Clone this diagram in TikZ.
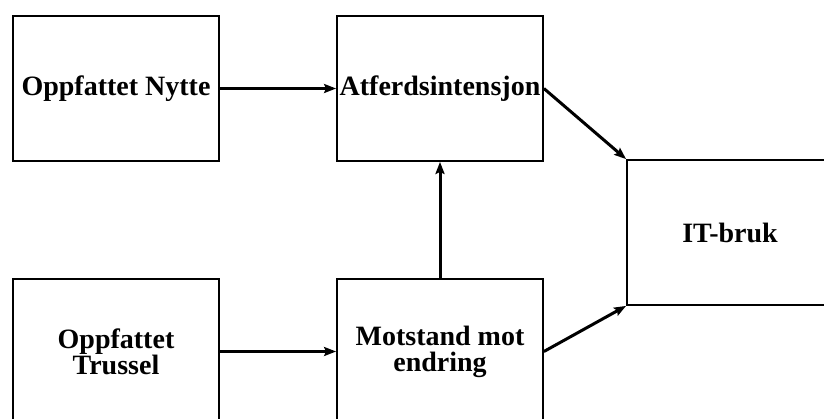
\documentclass[tikz,border=0pt]{standalone}
\usepackage{fontspec}
\setmainfont{Liberation Serif}
\usetikzlibrary{arrows.meta}
\begin{document}
\begin{tikzpicture}[x=1pt,y=-1pt,
  box/.style={draw=black,line width=1.8pt,fill=white,minimum width=206pt,minimum height=145pt,
    inner sep=0pt,align=center,font=\fontsize{28}{26}\selectfont\bfseries},
  arr/.style={line width=3pt,-{Stealth[length=12pt,width=9pt,inset=2pt]}}]
  \clip (0,0) rectangle (824,418);
  \fill[white] (0,0) rectangle (824,418);
  % factor boxes
  \node[box] (nytte)    at (116,88.5)  {Oppfattet Nytte};
  \node[box] (atferd)   at (440,88.5)  {Atferdsintensjon};
  \node[box] (itbruk)   at (730,232.5) {IT-bruk};
  \node[box] (trussel)  at (116,351.5) {Oppfattet\\Trussel};
  \node[box] (motstand) at (440,351.5) {Motstand mot\\endring};
  % causal links
  \draw[arr] (nytte.east) -- (atferd.west);
  \draw[arr] (trussel.east) -- (motstand.west);
  \draw[arr] (motstand.north) -- (atferd.south);
  \draw[arr] (atferd.east) -- (itbruk.north west);
  \draw[arr] (motstand.east) -- (itbruk.south west);
\end{tikzpicture}
\end{document}
